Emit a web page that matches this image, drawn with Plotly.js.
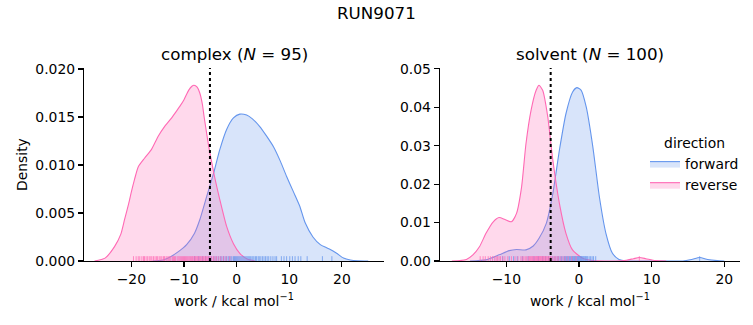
<!DOCTYPE html>
<html>
<head>
<meta charset="utf-8">
<script src="https://cdn.plot.ly/plotly-3.0.1.min.js"></script>
<style>html,body{margin:0;padding:0;background:#fff;}#chart{width:753px;height:325px;}</style>
</head>
<body>
<div id="chart"></div>
<script>
// ---------- data ----------
const suptitle = "RUN9071";
const panelTitles = ["complex (<i>N</i> = 95)", "solvent (<i>N</i> = 100)"];
const directions = ["forward", "reverse"];

// KDE curves: complex phase
const complexFwdX = [-16, -14, -12.4, -11, -9.5, -8, -7, -5.7, -4.4, -3.2, -1.9, -0.6, 0.6, 1.9, 3, 4.4, 5.7, 7, 8.3, 9.5, 10.8, 12, 13, 14.5, 15.9, 17, 17.8, 19, 20.3, 21.6, 23, 25];
const complexFwdY = [0, 0.0001, 0.0005, 0.001, 0.0017, 0.0029, 0.0043, 0.0067, 0.0091, 0.0116, 0.0137, 0.0149, 0.0153, 0.0152, 0.0148, 0.014, 0.013, 0.0119, 0.0104, 0.0088, 0.0072, 0.0057, 0.004, 0.0025, 0.0017, 0.0014, 0.0012, 0.0008, 0.0003, 0.0001, 0.00002, 0];
const complexRevX = [-27, -25, -23.2, -22, -21.3, -20.5, -20, -19.4, -18.7, -17.5, -16.2, -14.9, -13.7, -12.5, -11.7, -10.8, -10, -9.1, -8.5, -8.1, -7.5, -7, -6.5, -6.2, -5.7, -5.2, -4.2, -3.2, -1.9, -0.6, 0.6, 2, 3.5];
const complexRevY = [0, 0.0003, 0.0015, 0.0028, 0.0043, 0.006, 0.0072, 0.0085, 0.0098, 0.0107, 0.0116, 0.013, 0.014, 0.0148, 0.0154, 0.0161, 0.0168, 0.0178, 0.0182, 0.0183, 0.0181, 0.0175, 0.0163, 0.0151, 0.0133, 0.0116, 0.0088, 0.0064, 0.0036, 0.0018, 0.0008, 0.0002, 0];

// KDE curves: solvent phase
const solventFwdX = [-15, -12.8, -11, -9.6, -8.6, -7.3, -6.3, -5.5, -4.5, -3.6, -2.7, -1.8, -0.9, -0.3, 0.3, 1, 1.9, 2.8, 3.7, 4.6, 5.5, 6.5, 8, 10, 12, 14.3, 15.5, 16.6, 17.7, 19, 20];
const solventFwdY = [0, 0.0003, 0.0016, 0.0027, 0.003, 0.0029, 0.0039, 0.0059, 0.0098, 0.0176, 0.0288, 0.0383, 0.0439, 0.0451, 0.0444, 0.04, 0.0297, 0.0167, 0.0072, 0.002, 0.0004, 0, 0, 0, 0, 0, 0.0004, 0.0009, 0.0004, 0.0001, 0];
const solventRevX = [-17.5, -16.4, -15.5, -14.6, -13.7, -12.8, -11.8, -11, -10.2, -9.3, -8.6, -7.9, -7.3, -6.6, -5.9, -5.5, -5, -4.3, -3.6, -2.7, -1.8, -0.9, 0.5, 1.9, 3.5, 5, 6.5, 7.5, 8.3, 9.2, 10.5, 12];
const solventRevY = [0, 0.0001, 0.0004, 0.0016, 0.0037, 0.0072, 0.0102, 0.0113, 0.0108, 0.0102, 0.0124, 0.0193, 0.0305, 0.0392, 0.0444, 0.0457, 0.0444, 0.0375, 0.0262, 0.015, 0.0072, 0.0029, 0.0007, 0.0001, 0, 0, 0.0002, 0.0006, 0.0009, 0.0006, 0.0001, 0];

// rug (individual work values)
const complexFwdWork = [-8.0, -7.2, -6.5, -5.9, -5.3, -4.8, -4.3, -3.9, -3.5, -3.1, -2.8, -2.5, -2.2, -1.9, -1.6, -1.4, -1.1, -0.9, -0.6, -0.4, -0.2, 0.0, 0.2, 0.4, 0.6, 0.8, 1.0, 1.2, 1.4, 1.6, 1.8, 2.0, 2.2, 2.4, 2.6, 2.9, 3.1, 3.3, 3.6, 3.8, 4.1, 4.3, 4.6, 4.9, 5.2, 5.5, 5.8, 6.1, 6.5, 6.9, 7.3, 7.6, 8.5, 9.0, 9.5, 10.1, 10.6, 11.1, 11.7, 12.2, 13.4, 16.3, 18.1];
const complexRevWork = [-19.6, -19.1, -18.7, -18.4, -18.0, -17.7, -17.5, -17.2, -16.9, -16.6, -16.3, -16.1, -15.8, -15.5, -15.2, -15.0, -14.7, -14.4, -14.2, -13.9, -13.7, -13.4, -13.2, -12.9, -12.7, -12.5, -12.2, -12.0, -11.8, -11.6, -11.3, -11.1, -10.9, -10.7, -10.5, -10.3, -10.1, -9.9, -9.7, -9.5, -9.3, -9.1, -8.9, -8.8, -8.6, -8.4, -8.3, -8.1, -8.0, -7.8, -7.7, -7.5, -7.4, -7.2, -7.1, -6.9, -6.8, -6.6, -6.5, -6.3, -6.2, -6.0, -5.9, -5.7, -5.5, -5.3, -5.1, -4.9, -4.7, -4.4, -4.1, -3.8, -3.4, -3.0, -2.5, -2.0, -1.3];
const solventFwdWork = [-10.5, -9.6, -9.0, -8.5, -7.8, -7.0, -6.2, -5.6, -5.0, -4.6, -4.2, -3.9, -3.6, -3.3, -3.0, -2.8, -2.6, -2.4, -2.2, -2.0, -1.9, -1.8, -1.7, -1.6, -1.5, -1.4, -1.3, -1.2, -1.1, -1.0, -0.9, -0.85, -0.8, -0.7, -0.65, -0.6, -0.5, -0.45, -0.4, -0.3, -0.25, -0.2, -0.1, -0.05, 0.0, 0.1, 0.15, 0.2, 0.3, 0.35, 0.4, 0.5, 0.6, 0.7, 0.8, 0.9, 1.0, 1.1, 1.2, 1.4, 1.6, 1.8, 2.0, 2.3, 16.6];
const solventRevWork = [-13.6, -13.2, -12.9, -12.5, -12.2, -11.9, -11.6, -11.4, -11.2, -11.0, -10.8, -10.5, -10.2, -9.8, -9.3, -8.8, -8.4, -8.0, -7.8, -7.6, -7.4, -7.2, -7.0, -6.9, -6.8, -6.7, -6.6, -6.5, -6.4, -6.3, -6.2, -6.1, -6.0, -5.9, -5.85, -5.8, -5.7, -5.65, -5.6, -5.5, -5.45, -5.4, -5.3, -5.25, -5.2, -5.1, -5.05, -5.0, -4.9, -4.85, -4.8, -4.7, -4.6, -4.5, -4.4, -4.3, -4.2, -4.1, -4.0, -3.9, -3.8, -3.6, -3.4, -3.2, -3.0, -2.8, -2.5, -2.2, -1.9, -1.5, -1.0, -0.4, 8.3];

// free-energy estimates (dotted lines)
const complexDeltaG = -5.07;
const solventDeltaG = -3.9;

// tick labels
const xTickVals = [-20, -10, 0, 10, 20];
const xTickText = ["\u221220", "\u221210", "0", "10", "20"];

// ---------- styling ----------
const BLUE = "rgb(100,149,237)";
const PINK = "rgb(255,105,180)";
const BLUE_FILL = "rgba(100,149,237,0.25)";
const PINK_FILL = "rgba(255,105,180,0.25)";
const FONT = "DejaVu Sans, sans-serif";
const FS = 13.9;
const TS = 16.7;
const RUG_H = 0.025;

function kde(x, y, color, fill, xa, ya, name, show) {
  return {type: "scatter", mode: "lines", x: x, y: y, xaxis: xa, yaxis: ya,
    fill: "toself", fillcolor: fill, line: {color: color, width: 1.1, shape: "spline", smoothing: 0.6},
    name: name, showlegend: show, legendgroup: name, hoverinfo: "skip"};
}
function rug(vals, color, xa, ya) {
  const xs = [], ys = [];
  vals.forEach(v => { xs.push(v, v, null); ys.push(0, RUG_H, null); });
  return {type: "scatter", mode: "lines", x: xs, y: ys, xaxis: xa, yaxis: ya,
    line: {color: color, width: 1}, opacity: 0.75, showlegend: false, hoverinfo: "skip"};
}
function vline(v, xa, ya) {
  return {type: "scatter", mode: "lines", x: [v, v], y: [0, 1], xaxis: xa, yaxis: ya,
    line: {color: "black", width: 2, dash: "dot"}, showlegend: false, hoverinfo: "skip"};
}

const data = [
  kde(complexFwdX, complexFwdY, BLUE, BLUE_FILL, "x", "y", directions[0], true),
  kde(complexRevX, complexRevY, PINK, PINK_FILL, "x", "y", directions[1], true),
  kde(solventFwdX, solventFwdY, BLUE, BLUE_FILL, "x2", "y2", directions[0], false),
  kde(solventRevX, solventRevY, PINK, PINK_FILL, "x2", "y2", directions[1], false),
  rug(complexFwdWork, BLUE, "x", "y3"),
  rug(complexRevWork, PINK, "x", "y3"),
  rug(solventFwdWork, BLUE, "x2", "y4"),
  rug(solventRevWork, PINK, "x2", "y4"),
  vline(complexDeltaG, "x", "y3"),
  vline(solventDeltaG, "x2", "y4")
];

const W = 753, H = 325;
const yDom = [(H - 261) / H, (H - 68) / H];
const tickFont = {family: FONT, size: FS, color: "#000"};
const axBase = {showline: true, linecolor: "black", linewidth: 1.1, ticks: "outside", ticklen: 5,
  tickwidth: 1.1, tickcolor: "black", showgrid: false, zeroline: false, tickfont: tickFont, fixedrange: true};

const layout = {
  width: W, height: H, margin: {l: 0, r: 0, t: 0, b: 0},
  paper_bgcolor: "white", plot_bgcolor: "white",
  font: {family: FONT, size: FS, color: "#000"},
  xaxis: Object.assign({}, axBase, {domain: [84 / W, 384 / W], range: [-29, 28], anchor: "y",
    tickvals: xTickVals, ticktext: xTickText}),
  yaxis: Object.assign({}, axBase, {domain: yDom, range: [0, 0.0201], anchor: "x",
    tickformat: ".3f", dtick: 0.005, tick0: 0}),
  xaxis2: Object.assign({}, axBase, {domain: [439.7 / W, 739.7 / W], range: [-19.17, 22.11], anchor: "y2",
    tickvals: xTickVals, ticktext: xTickText}),
  yaxis2: Object.assign({}, axBase, {domain: yDom, range: [0, 0.0502], anchor: "x2",
    tickformat: ".2f", dtick: 0.01, tick0: 0}),
  yaxis3: {overlaying: "y", anchor: "x", range: [0, 1], visible: false, fixedrange: true},
  yaxis4: {overlaying: "y2", anchor: "x2", range: [0, 1], visible: false, fixedrange: true},
  showlegend: true,
  legend: {x: 645 / W, y: (H - 130) / H, xanchor: "left", yanchor: "top",
    title: {text: "direction", side: "top center", font: {family: FONT, size: FS}},
    font: {family: FONT, size: FS}, itemwidth: 30, tracegroupgap: 0, bgcolor: "rgba(0,0,0,0)"},
  annotations: [
    {text: suptitle, xref: "paper", yref: "paper", x: 376.5 / W, y: (H - 13) / H, showarrow: false,
      xanchor: "center", yanchor: "middle", font: {family: FONT, size: TS}},
    {text: panelTitles[0], xref: "paper", yref: "paper", x: 234 / W, y: (H - 54) / H, showarrow: false,
      xanchor: "center", yanchor: "middle", font: {family: FONT, size: TS}},
    {text: panelTitles[1], xref: "paper", yref: "paper", x: 589.7 / W, y: (H - 54) / H, showarrow: false,
      xanchor: "center", yanchor: "middle", font: {family: FONT, size: TS}},
    {text: "work / kcal mol<sup>\u22121</sup>", xref: "paper", yref: "paper", x: 234 / W, y: (H - 300) / H,
      showarrow: false, xanchor: "center", yanchor: "middle", font: {family: FONT, size: FS}},
    {text: "work / kcal mol<sup>\u22121</sup>", xref: "paper", yref: "paper", x: 589.7 / W, y: (H - 300) / H,
      showarrow: false, xanchor: "center", yanchor: "middle", font: {family: FONT, size: FS}},
    {text: "Density", xref: "paper", yref: "paper", x: 22 / W, y: (H - 165) / H, textangle: -90,
      showarrow: false, xanchor: "center", yanchor: "middle", font: {family: FONT, size: FS}}
  ]
};

Plotly.newPlot("chart", data, layout, {displayModeBar: false, staticPlot: true});
</script>
</body>
</html>
